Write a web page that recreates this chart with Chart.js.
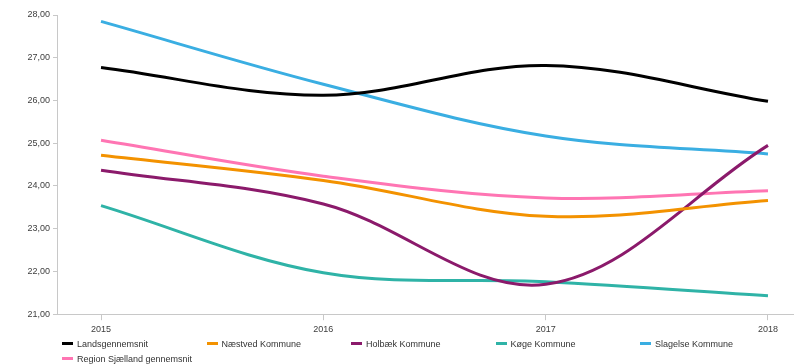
<!DOCTYPE html>
<html>
<head>
<meta charset="utf-8">
<script src="https://cdn.jsdelivr.net/npm/chart.js@4"></script>
<style>
  body { margin: 0; background: #fff; }
  #wrap { position: relative; width: 794px; height: 364px; }
  #myChart { position: absolute; left: 0; top: 0; }
  .lg { position: absolute; font: 9px "Liberation Sans", Arial, sans-serif; color: #333; white-space: nowrap; line-height: 12px; }
  .lg i { display: inline-block; width: 11px; height: 3px; vertical-align: middle; margin-right: 4px; position: relative; top: -1px; }
</style>
</head>
<body>
<div id="wrap">
  <canvas id="myChart" width="794" height="341"></canvas>
  <div id="legend"></div>
</div>
<script>
const years = [2015, 2016, 2017, 2018];
const names = ['Landsgennemsnit', 'Næstved Kommune', 'Holbæk Kommune', 'Køge Kommune', 'Slagelse Kommune', 'Region Sjælland gennemsnit'];
const colors = ['#000000', '#f39200', '#8b1a6b', '#2fb3a7', '#3aaee2', '#ff75b3'];

const lands = [26.77, 26.12, 26.82, 25.98];
const naestved = [24.72, 24.13, 23.29, 23.66];
const holbaek = [24.37, 23.58, 21.70, 24.95];
const koege = [23.54, 21.97, 21.76, 21.43];
const slagelse = [27.85, 26.38, 25.17, 24.75];
const region = [25.07, 24.23, 23.72, 23.89];

const series = [lands, naestved, holbaek, koege, slagelse, region];
const yTicks = [21, 22, 23, 24, 25, 26, 27, 28];

const ctx = document.getElementById('myChart').getContext('2d');
const axisColor = '#c8c8c8';
const tickFont = { family: '"Liberation Sans", Arial, sans-serif', size: 9 };

const ch = new Chart(ctx, {
    type: 'line',
    data: {
        datasets: series.map((vals, i) => ({
            label: names[i],
            data: years.map((yr, j) => ({ x: yr, y: vals[j] })),
            borderColor: colors[i],
            backgroundColor: colors[i],
            borderWidth: 3,
            pointRadius: 0,
            tension: 0.35,
            fill: false
        }))
    },
    options: {
        responsive: false,
        animation: false,
        layout: { padding: { top: 15, right: 0, bottom: 2, left: 0 } },
        plugins: { legend: { display: false }, tooltip: { enabled: false } },
        scales: {
            x: {
                type: 'linear',
                min: 2014.802,
                max: 2018.117,
                afterBuildTicks: s => { s.ticks = years.map(v => ({ value: v })); },
                ticks: { callback: v => String(v), font: tickFont, color: '#404040', padding: 4, maxRotation: 0 },
                grid: { drawOnChartArea: false, color: axisColor, tickLength: 6 },
                border: { color: axisColor }
            },
            y: {
                min: 21,
                max: 28,
                afterBuildTicks: s => { s.ticks = yTicks.map(v => ({ value: v })); },
                afterFit: s => { s.width = 57; },
                ticks: { callback: v => v.toFixed(2).replace('.', ','), font: tickFont, color: '#404040', padding: 3 },
                grid: { drawOnChartArea: false, color: axisColor, tickLength: 4 },
                border: { color: axisColor }
            }
        }
    }
});

// legend laid out in fixed columns like the original
const legend = document.getElementById('legend');
names.forEach((n, i) => {
    const row = i < 5 ? 0 : 1;
    const col = i < 5 ? i : 0;
    const el = document.createElement('div');
    el.className = 'lg';
    el.style.left = (62 + col * 144.5) + 'px';
    el.style.top = (338 + row * 15) + 'px';
    el.innerHTML = '<i style="background:' + colors[i] + '"></i>' + n;
    legend.appendChild(el);
});
</script>
</body>
</html>
